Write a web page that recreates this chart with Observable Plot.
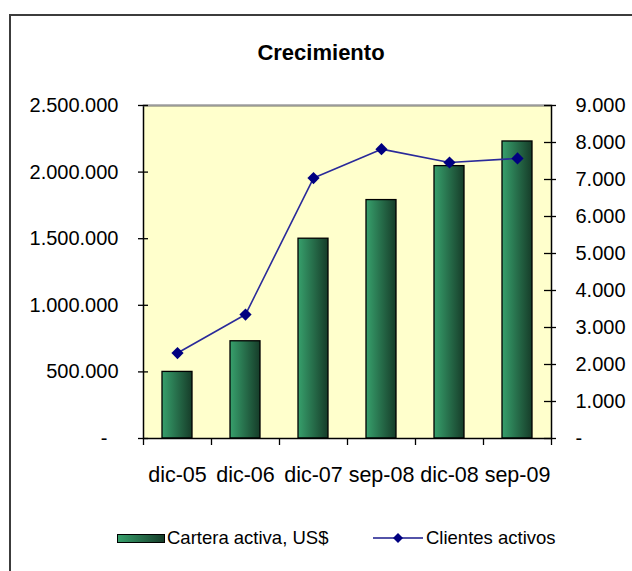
<!DOCTYPE html>
<html><head><meta charset="utf-8">
<script src="https://cdn.jsdelivr.net/npm/d3@7"></script>
<script src="https://cdn.jsdelivr.net/npm/@observablehq/plot@0.6"></script>
<style>
html,body{margin:0;padding:0;background:#fff;overflow:hidden;}
#wrap{position:relative;width:632px;height:571px;overflow:hidden;font-family:"Liberation Sans",Arial,sans-serif;color:#000;}
#border{position:absolute;left:9px;top:14px;width:800px;height:800px;border:2px solid #3c3c3c;}
#title{position:absolute;left:0;width:642px;top:40px;text-align:center;font-weight:bold;font-size:22px;line-height:26px;}
#chart{position:absolute;left:0;top:0;}
.leg{position:absolute;font-size:18.5px;line-height:22px;white-space:nowrap;}
#sw{position:absolute;left:117px;top:534px;width:46px;height:7px;border:1px solid #000;background:linear-gradient(to right,#37a06c,#163c29);}
#lsym{position:absolute;left:373px;top:528px;}
</style></head>
<body>
<div id="wrap">
  <div id="border"></div>
  <div id="title"></div>
  <div id="chart"></div>
  <div id="sw"></div>
  <div class="leg" id="l1" style="left:167px;top:527px;"></div>
  <svg id="lsym" width="52" height="20"><line x1="0" x2="50" y1="10" y2="10" stroke="#1a1a8c" stroke-width="1.6"/><path d="M25,5 L30,10 L25,15 L20,10 Z" fill="#000080"/></svg>
  <div class="leg" id="l2" style="left:426px;top:527px;"></div>
</div>
<script>
const title = "Crecimiento";
const categories = ["dic-05","dic-06","dic-07","sep-08","dic-08","sep-09"];
const cartera = [500000, 730000, 1500000, 1790000, 2045000, 2230000];
const clientes = [2310, 3350, 7040, 7820, 7460, 7570];
const seriesNames = ["Cartera activa, US$", "Clientes activos"];
const leftTicks = [0, 500000, 1000000, 1500000, 2000000, 2500000];
const rightTicks = [0, 1000, 2000, 3000, 4000, 5000, 6000, 7000, 8000, 9000];
const yMax = 2500000, y2Max = 9000;
const k = yMax / y2Max;

document.getElementById("title").textContent = title;
document.getElementById("l1").textContent = seriesNames[0];
document.getElementById("l2").textContent = seriesNames[1];

const data = categories.map((c, i) => ({cat: c, cartera: cartera[i], clientes: clientes[i], scaled: clientes[i] * k}));
const fmtNum = n => d3.format(",")(n).replace(/,/g, ".");
const fmtLeft = n => n === 0 ? "-\u2007" : fmtNum(n);
const fmtRight = v => { const n = Math.round(v / k); return n === 0 ? "-" : fmtNum(n); };
const blank = () => "";

const defs = () => {
  const s = d3.create("svg:defs");
  const g = s.append("linearGradient").attr("id", "barGrad")
    .attr("x1", "0").attr("x2", "1").attr("y1", "0").attr("y2", "0");
  g.append("stop").attr("offset", "0%").attr("stop-color", "#37a06c");
  g.append("stop").attr("offset", "100%").attr("stop-color", "#163c29");
  return s.node();
};

const rightPos = rightTicks.map(v => v * k);

const chart = Plot.plot({
  width: 632, height: 500,
  marginTop: 105, marginBottom: 62, marginLeft: 143, marginRight: 81,
  style: {fontFamily: "'Liberation Sans', Arial, sans-serif", fontSize: "20px", background: "transparent", color: "#000"},
  x: {domain: categories, paddingInner: 0.557, paddingOuter: 0.2785, label: null},
  y: {domain: [0, yMax], label: null},
  marks: [
    defs,
    Plot.frame({fill: "#ffffcc"}),
    Plot.barY(data, {x: "cat", y: "cartera", fill: "url(#barGrad)", stroke: "#000", strokeWidth: 1.3}),
    Plot.line(data, {x: "cat", y: "scaled", stroke: "#2a2a9a", strokeWidth: 1.6}),
    Plot.dot(data, {x: "cat", y: "scaled", symbol: "diamond2", r: 5.5, fill: "#000080", stroke: "none"}),
    Plot.frame({stroke: "#000", strokeWidth: 1.5}),
    Plot.ruleY([yMax], {stroke: "#9a9a9a", strokeWidth: 1.5}),
    Plot.axisY(leftTicks, {anchor: "left", tickSize: 10, dx: 5, tickFormat: blank, stroke: "#000", strokeWidth: 1.3, label: null}),
    Plot.axisY(leftTicks, {anchor: "left", tickSize: 0, tickPadding: 25, tickFormat: fmtLeft, fontSize: 20, fill: "#000", label: null}),
    Plot.axisY(rightPos, {anchor: "right", tickSize: 12, dx: -8, tickFormat: blank, stroke: "#000", strokeWidth: 1.3, label: null}),
    Plot.axisY(rightPos, {anchor: "right", tickSize: 0, tickPadding: 24, tickFormat: fmtRight, fontSize: 20, fill: "#000", label: null}),
    Plot.axisX(categories, {anchor: "bottom", tickSize: 7, dx: -34, tickFormat: blank, stroke: "#000", strokeWidth: 1.3, label: null}),
    Plot.axisX([categories[categories.length - 1]], {anchor: "bottom", tickSize: 7, dx: 34, tickFormat: blank, stroke: "#000", strokeWidth: 1.3, label: null}),
    Plot.axisX(categories, {anchor: "bottom", tickSize: 0, tickPadding: 28, fontSize: 21.5, fill: "#000", label: null})
  ]
});
document.getElementById("chart").appendChild(chart);
</script>
</body></html>
